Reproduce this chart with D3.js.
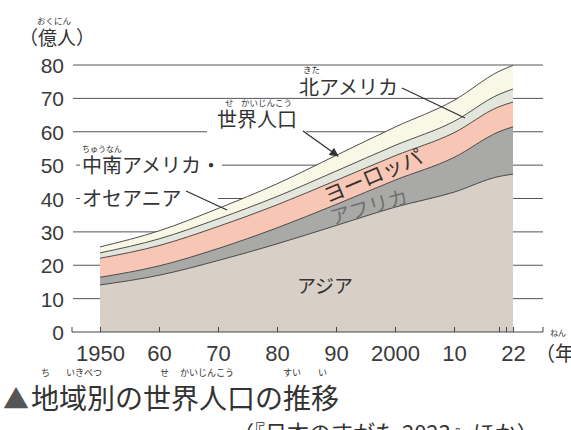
<!DOCTYPE html>
<html>
<head>
<meta charset="utf-8">
<script src="https://cdn.jsdelivr.net/npm/d3@7"></script>
<style>
  body { margin: 0; background: #fff; }
  svg { display: block; }
  .jp { font-family: "Noto Sans CJK JP", "Noto Sans", sans-serif; fill: #333; }
  .num { font-family: "Liberation Sans", Arial, sans-serif; fill: #3a3a3a; }
</style>
</head>
<body>
<div id="chart"></div>
<script>
// population by region, 億人
var years = [1950, 1960, 1970, 1980, 1990, 2000, 2010, 2020, 2022];
var asia = [14.1, 17.0, 21.4, 26.4, 31.9, 37.4, 41.9, 46.6, 47.3];
var africa = [2.3, 2.8, 3.6, 4.8, 6.3, 8.1, 10.4, 13.4, 14.2];
var europe = [5.7, 6.1, 6.6, 6.9, 7.2, 7.3, 7.4, 7.5, 7.4];
var northAmerica = [1.6, 2.0, 2.3, 2.5, 2.8, 3.1, 3.4, 3.7, 3.9];
var latinOceania = [1.8, 2.4, 3.1, 3.8, 4.7, 5.5, 6.3, 6.9, 7.1];

var yTicks = [0, 10, 20, 30, 40, 50, 60, 70, 80];
var xTicks = [1950, 1960, 1970, 1980, 1990, 2000, 2010, 2020, 2021, 2022];
var xTickLabels = ["1950", "60", "70", "80", "90", "2000", "10", "", "", "22"];

var keys = ["asia", "africa", "europe", "northAmerica", "latinOceania"];
var colors = ["#d8d0c7", "#a9aaa7", "#f8c6b4", "#e3e6dd", "#f9f7e6"];

var table = years.map(function (yr, i) {
  return {
    year: yr,
    asia: asia[i],
    africa: africa[i],
    europe: europe[i],
    northAmerica: northAmerica[i],
    latinOceania: latinOceania[i]
  };
});

var width = 571, height = 430;

var svg = d3.select("#chart").append("svg")
  .attr("width", width)
  .attr("height", height);

// scales (last decade is drawn squeezed, like the printed chart)
var x = d3.scaleLinear()
  .domain([1950, 2010, 2020, 2022])
  .range([100, 454, 499, 513]);
var y = d3.scaleLinear().domain([0, 80]).range([332, 65]);

var gridLeft = 73, gridRight = 543;

// gridlines, broken where the labels sit
var gridSegs = {
  10: [[gridLeft, gridRight]],
  20: [[gridLeft, gridRight]],
  30: [[gridLeft, gridRight]],
  40: [[76, 80], [218, gridRight]],
  50: [[76, 80], [222, gridRight]],
  60: [[gridLeft, 207], [306, gridRight]],
  70: [[gridLeft, gridRight]],
  80: [[gridLeft, gridRight]]
};
Object.keys(gridSegs).forEach(function (v) {
  gridSegs[v].forEach(function (s) {
    svg.append("line")
      .attr("x1", s[0]).attr("x2", s[1])
      .attr("y1", y(+v)).attr("y2", y(+v))
      .attr("stroke", "#555").attr("stroke-width", 1);
  });
});

// stacked areas
var stack = d3.stack().keys(keys);
var series = stack(table);

var area = d3.area()
  .x(function (d) { return x(d.data.year); })
  .y0(function (d) { return y(d[0]); })
  .y1(function (d) { return y(d[1]); })
  .curve(d3.curveMonotoneX);

var topLine = d3.line()
  .x(function (d) { return x(d.data.year); })
  .y(function (d) { return y(d[1]); })
  .curve(d3.curveMonotoneX);

svg.selectAll(".layer")
  .data(series)
  .join("path")
  .attr("class", "layer")
  .attr("d", area)
  .attr("fill", function (d, i) { return colors[i]; });

svg.selectAll(".edge")
  .data(series)
  .join("path")
  .attr("class", "edge")
  .attr("d", topLine)
  .attr("fill", "none")
  .attr("stroke", "#3a3a3a")
  .attr("stroke-width", 0.9);

// y axis labels
var yAxis = d3.axisLeft(y).tickValues(yTicks).tickSize(0).tickPadding(0);
var yg = svg.append("g")
  .attr("transform", "translate(64,0)")
  .call(yAxis);
yg.select(".domain").remove();
yg.selectAll("text")
  .attr("class", "num")
  .style("font-size", "21px")
  .attr("dy", "0.36em");

// x axis
var xAxis = d3.axisBottom(x)
  .tickValues(xTicks)
  .tickSizeInner(-5)
  .tickSizeOuter(0)
  .tickPadding(13)
  .tickFormat(function (d, i) { return xTickLabels[i]; });
var xg = svg.append("g")
  .attr("transform", "translate(0," + y(0) + ")")
  .call(xAxis);
xg.select(".domain").remove();
xg.selectAll(".tick line").attr("stroke", "#444");
xg.selectAll("text")
  .attr("class", "num")
  .style("font-size", "22px");

svg.append("path")
  .attr("d", "M" + (gridLeft - 1) + "," + (y(0) - 5) + "V" + y(0) + "H" + gridRight + "V" + (y(0) - 5))
  .attr("fill", "none")
  .attr("stroke", "#444")
  .attr("stroke-width", 1);

// leader lines
svg.append("defs").append("marker")
  .attr("id", "arr")
  .attr("viewBox", "0 0 10 10")
  .attr("refX", 9).attr("refY", 5)
  .attr("markerWidth", 11).attr("markerHeight", 9)
  .attr("markerUnits", "userSpaceOnUse")
  .attr("orient", "auto")
  .append("path")
  .attr("d", "M0,0L10,5L0,10z")
  .attr("fill", "#333");

svg.append("line")
  .attr("x1", 303).attr("y1", 131).attr("x2", 338).attr("y2", 156)
  .attr("stroke", "#333").attr("stroke-width", 1.3)
  .attr("marker-end", "url(#arr)");
svg.append("line")
  .attr("x1", 402).attr("y1", 88).attr("x2", 465).attr("y2", 118)
  .attr("stroke", "#333").attr("stroke-width", 1.3);
svg.append("line")
  .attr("x1", 186).attr("y1", 191).attr("x2", 227).attr("y2", 210)
  .attr("stroke", "#333").attr("stroke-width", 1.3);

// labels
function label(txt, lx, ly, size, opts) {
  opts = opts || {};
  var t = svg.append("text")
    .attr("class", "jp")
    .attr("x", lx).attr("y", ly)
    .style("font-size", size + "px")
    .attr("text-anchor", opts.anchor || "start")
    .text(txt);
  if (opts.rotate) t.attr("transform", "rotate(" + opts.rotate + "," + lx + "," + ly + ")");
  if (opts.fill) t.style("fill", opts.fill);
  return t;
}

label("（億人）", 19, 45, 19);
label("おくにん", 37, 24, 8.5);

label("北アメリカ", 299, 95, 20);
label("きた", 303, 73, 8.5);

label("世界人口", 217, 127, 20);
label("せ", 225, 106, 8.5);
label("かいじんこう", 241, 106, 8.5);

label("中南アメリカ・", 82, 173, 20);
label("ちゅうなん", 82, 152, 8);
label("オセアニア", 82, 206, 20);

label("ヨーロッパ", 376, 183, 21, { anchor: "middle", rotate: -23 });
label("アフリカ", 371, 214, 20, { anchor: "middle", rotate: -16, fill: "#707070" });
label("アジア", 325, 293, 19, { anchor: "middle" });

label("（年", 535, 361, 20);
label("ねん", 550, 336, 8);

// caption
label("▲", 3, 409, 26, { fill: "#555" });
label("地域別の世界人口の推移", 31, 409, 28);
label("ち", 41, 376, 9);
label("いきべつ", 66, 376, 9);
label("せ", 160, 376, 9);
label("かいじんこう", 180, 376, 9);
label("すい", 283, 376, 9);
label("い", 318, 376, 9);

label("（『日本のすがた 2023』ほか）", 232, 441, 22);
</script>
</body>
</html>
